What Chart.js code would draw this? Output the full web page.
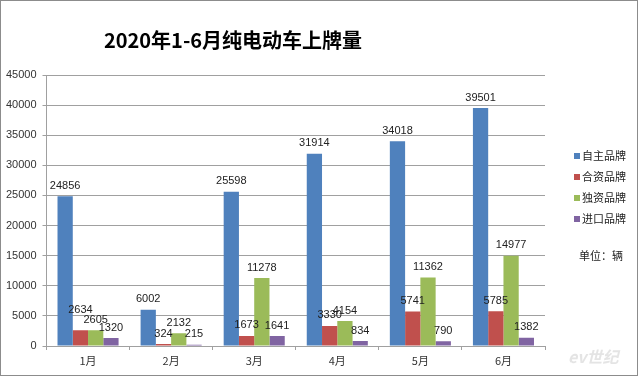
<!DOCTYPE html>
<html>
<head>
<meta charset="utf-8">
<script src="https://cdn.jsdelivr.net/npm/chart.js@4.4.1/dist/chart.umd.min.js"></script>
<style>
  body { margin: 0; background: #fff; }
  canvas { display: block; }
</style>
</head>
<body>
<canvas id="chart" width="640" height="377"></canvas>
<script>
const months = ['1月', '2月', '3月', '4月', '5月', '6月'];
const ziZhu = [24856, 6002, 25598, 31914, 34018, 39501];   // 自主品牌
const heZi = [2634, 324, 1673, 3330, 5741, 5785];           // 合资品牌
const duZi = [2605, 2132, 11278, 4154, 11362, 14977];       // 独资品牌
const jinKou = [1320, 215, 1641, 834, 790, 1382];           // 进口品牌
const seriesNames = ['自主品牌', '合资品牌', '独资品牌', '进口品牌'];
const colors = ['#4F81BD', '#C0504D', '#9BBB59', '#8064A2'];
const titleText = '2020年1-6月纯电动车上牌量';
const unitText = '单位：辆';

const numFont = '"Liberation Sans", Arial, sans-serif';
const cjkFont = '"Noto Sans CJK SC", "Noto Sans", sans-serif';

// 标题、图例、单位、边框
const extras = {
  id: 'extras',
  afterDraw(chart) {
    const ctx = chart.ctx;
    ctx.save();
    ctx.strokeStyle = '#8c8c8c';
    ctx.lineWidth = 1;
    ctx.strokeRect(0.5, 0.5, 637, 375);

    ctx.fillStyle = '#000';
    ctx.font = 'bold 20px ' + cjkFont;
    ctx.textAlign = 'center';
    ctx.textBaseline = 'middle';
    ctx.fillText(titleText, 233, 40);

    ctx.font = '11px ' + cjkFont;
    ctx.textAlign = 'left';
    seriesNames.forEach((name, i) => {
      const y = 156 + i * 21;
      ctx.fillStyle = colors[i];
      ctx.fillRect(574, y - 3, 6, 6);
      ctx.fillStyle = '#222';
      ctx.fillText(name, 582, y);
    });
    ctx.fillText(unitText, 579, 256);

    ctx.fillStyle = 'rgba(205,205,205,0.55)';
    ctx.font = 'italic bold 16px ' + cjkFont;
    ctx.fillText('ev世纪', 568, 357);
    ctx.restore();
  }
};

// 数据标签（1月合资品牌的标签在原图里被上移过，避免与独资品牌重叠）
const nudge = { '1-0': -10 };
const valueLabels = {
  id: 'valueLabels',
  afterDatasetsDraw(chart) {
    const ctx = chart.ctx;
    ctx.save();
    ctx.font = '11px ' + numFont;
    ctx.fillStyle = '#222';
    ctx.textAlign = 'center';
    ctx.textBaseline = 'bottom';
    chart.data.datasets.forEach((ds, i) => {
      chart.getDatasetMeta(i).data.forEach((bar, j) => {
        const dy = nudge[i + '-' + j] || 0;
        ctx.fillText(ds.data[j], bar.x, bar.y - 5 + dy);
      });
    });
    ctx.restore();
  }
};

const ctx = document.getElementById('chart').getContext('2d');
const myChart = new Chart(ctx, {
  type: 'bar',
  data: {
    labels: months,
    datasets: [ziZhu, heZi, duZi, jinKou].map((d, i) => ({
      label: seriesNames[i],
      data: d,
      backgroundColor: colors[i],
      borderWidth: 0,
      categoryPercentage: 0.735,
      barPercentage: 1
    }))
  },
  options: {
    responsive: false,
    animation: false,
    layout: { padding: { left: 0, top: 75, right: 95, bottom: 0 } },
    plugins: {
      legend: { display: false },
      title: { display: false },
      tooltip: { enabled: false }
    },
    scales: {
      y: {
        min: 0,
        max: 45000,
        afterFit(scale) { scale.width = 46.5; },
        ticks: {
          stepSize: 5000,
          padding: 6,
          color: '#333',
          font: { family: numFont, size: 11 },
          callback: (v) => String(v)
        },
        grid: { color: '#a0a0a0', tickLength: 4 },
        border: { color: '#a0a0a0' }
      },
      x: {
        afterFit(scale) { scale.height = 31; },
        ticks: {
          padding: 4,
          color: '#333',
          font: { family: cjkFont, size: 11 }
        },
        grid: { drawOnChartArea: false, color: '#a0a0a0', tickLength: 4 },
        border: { color: '#a0a0a0' }
      }
    }
  },
  plugins: [valueLabels, extras]
});
</script>
</body>
</html>
